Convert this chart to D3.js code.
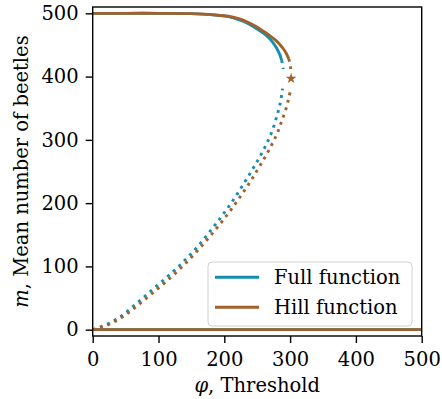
<!DOCTYPE html>
<html lang="en">
<head>
<meta charset="UTF-8">
<title>Mean number of beetles vs threshold</title>
<style>
    body { margin: 0; background: #fff; }
    svg text { font-family: "DejaVu Serif", serif; fill: #000; }
</style>
</head>
<body>
<div id="chart"></div>
<script src="https://d3js.org/d3.v7.min.js"></script>
<script>
// [phi, m] pairs
const fullStable = [[0,500],[50,500],[100,500],[150,499.5],[183,497.5],[208,494.5],[222,490],[233.6,485],[247,477],[259,469],[268,461],[274.5,453],[279,446],[282,440],[285,433],[287,426]];
const fullStableEnd = [[287,426],[288.6,419],[289.6,412]];
const fullUnstable = [[0,0],[10,3.5],[25,10],[40,19],[55,31],[70,44.5],[85,58],[100,71.5],[115,85],[130,99.5],[145,115],[160,132],[175,151],[190,171],[205,192],[220,215],[235,240],[250,266],[262,289],[272,312],[280,338],[285,358],[288.6,381]];
const hillStable = [[0,500],[50,500],[100,500],[150,499.5],[183,497.8],[208,495],[222,491.5],[233.6,487],[247,480],[259,472],[270,464],[279.6,456],[285,450],[289.7,444],[294,437],[298,428]];
const hillStableEnd = [[298,428],[300,420],[301,412]];
const hillUnstable = [[0,0],[12,3.5],[27,9.5],[42,18],[57,29],[72,41.5],[87,54.5],[102,67.5],[117,81],[132,95.5],[147,111],[162,128],[177,146],[192,165],[207,185],[222,207],[237,230],[250,252],[262,273],[272,292],[281,312],[288,332],[294,350],[298,366],[300.5,378]];
const extinct = [[0,0],[500,0]];
const hillFold = [301.5, 397];

const xTicks = [0, 100, 200, 300, 400, 500];
const yTicks = [0, 100, 200, 300, 400, 500];
const seriesNames = ["Full function", "Hill function"];
const colors = ["#138db0", "#a1612c"];

const W = 442, H = 399;
const margin = {left: 92.7, right: 20.3, top: 7, bottom: 63};
const fs = "19.5px";

const svg = d3.select("#chart").append("svg")
    .attr("width", W).attr("height", H);

const x = d3.scaleLinear().domain([0, 500]).range([margin.left, W - margin.right]);
const y = d3.scaleLinear().domain([-10, 510]).range([H - margin.bottom, margin.top]);

const line = d3.line().x(d => x(d[0])).y(d => y(d[1])).curve(d3.curveCatmullRom);

const plot = svg.append("g");
const lw = 2.9;

function draw(data, color, dotted) {
    plot.append("path")
        .datum(data)
        .attr("fill", "none")
        .attr("stroke", color)
        .attr("stroke-width", lw)
        .attr("stroke-dasharray", dotted ? `${lw} ${lw * 1.65}` : null)
        .attr("d", line);
}

draw(fullStable, colors[0], false);
draw(fullStableEnd, colors[0], true);
draw(fullUnstable, colors[0], true);
draw(extinct, colors[0], false);
draw(hillStable, colors[1], false);
draw(hillStableEnd, colors[1], true);
draw(hillUnstable, colors[1], true);
draw(extinct, colors[1], false);

plot.append("path")
    .attr("d", d3.symbol(d3.symbolStar, 36)())
    .attr("transform", `translate(${x(hillFold[0])},${y(hillFold[1])})`)
    .attr("fill", colors[1]);

// axes
const xAxis = svg.append("g")
    .attr("transform", `translate(0,${H - margin.bottom})`)
    .call(d3.axisBottom(x).tickValues(xTicks).tickSize(7).tickPadding(9));
const yAxis = svg.append("g")
    .attr("transform", `translate(${margin.left},0)`)
    .call(d3.axisLeft(y).tickValues(yTicks).tickSize(7).tickPadding(7));

[xAxis, yAxis].forEach(g => {
    g.select(".domain").remove();
    g.selectAll("line").attr("stroke", "#000").attr("stroke-width", 1.4);
    g.selectAll("text").style("font-family", "DejaVu Serif").style("font-size", fs);
});

svg.append("rect")
    .attr("x", margin.left).attr("y", margin.top)
    .attr("width", W - margin.left - margin.right)
    .attr("height", H - margin.top - margin.bottom)
    .attr("fill", "none").attr("stroke", "#000").attr("stroke-width", 1.4);

// axis labels
svg.append("text")
    .attr("x", x(250)).attr("y", 392)
    .attr("text-anchor", "middle").style("font-size", fs)
    .html('<tspan font-style="italic">φ</tspan>, Threshold');

svg.append("text")
    .attr("transform", `translate(28,${(margin.top + H - margin.bottom) / 2}) rotate(-90)`)
    .attr("text-anchor", "middle").style("font-size", fs)
    .html('<tspan font-style="italic">m</tspan>, Mean number of beetles');

// legend
const legend = svg.append("g").attr("transform", "translate(208,262)");
legend.append("rect")
    .attr("width", 204).attr("height", 64).attr("rx", 4)
    .attr("fill", "#fff").attr("fill-opacity", 0.8)
    .attr("stroke", "#d0d0d0").attr("stroke-width", 1);

seriesNames.forEach((name, i) => {
    const ly = 15.3 + i * 30;
    legend.append("line")
        .attr("x1", 7).attr("x2", 51).attr("y1", ly).attr("y2", ly)
        .attr("stroke", colors[i]).attr("stroke-width", lw);
    legend.append("text")
        .attr("x", 66).attr("y", ly + 7)
        .style("font-size", fs)
        .text(name);
});
</script>
</body>
</html>
